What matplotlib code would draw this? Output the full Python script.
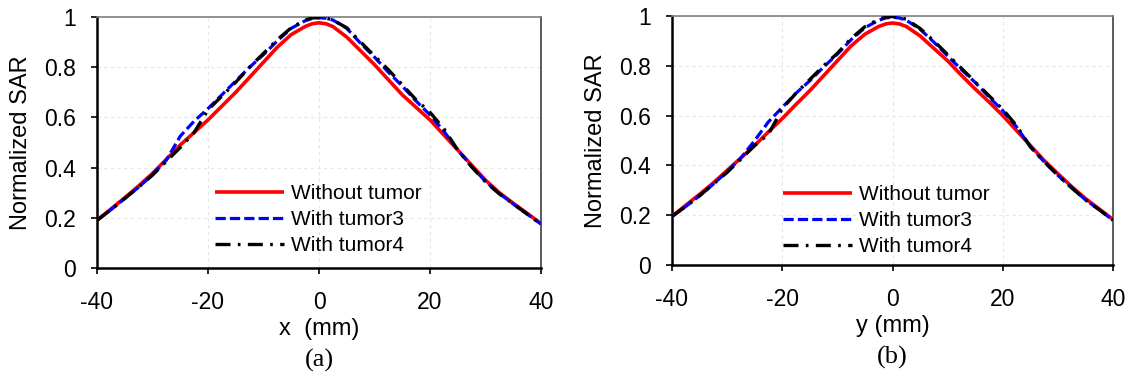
import matplotlib

matplotlib.use("Agg")

import matplotlib.pyplot as plt

plt.rcParams["font.family"] = ["Liberation Sans", "DejaVu Sans"]
plt.rcParams["axes.unicode_minus"] = False

# position along the scan line (mm), shared by both panels
pos_mm = [-40, -37.5, -35, -32.5, -30, -27.5, -25, -22.5, -20, -17.5, -15,
          -12.5, -10, -7.5, -5, -2.5, -1.25, 0, 1.25, 2.5, 5, 7.5, 10,
          12.5, 15, 17.5, 20, 22.5, 25, 27.5, 30, 32.5, 35, 37.5, 40]

# (a) along x
sar_x_none = [0.19, 0.235, 0.28, 0.327, 0.377, 0.433, 0.49, 0.54, 0.59,
              0.645, 0.70, 0.76, 0.82, 0.88, 0.93, 0.962, 0.973, 0.977,
              0.973, 0.962, 0.92, 0.865, 0.81, 0.75, 0.69, 0.64, 0.59,
              0.53, 0.47, 0.41, 0.35, 0.30, 0.258, 0.218, 0.177]
sar_x_t3 = [0.19, 0.232, 0.277, 0.322, 0.372, 0.43, 0.525, 0.585, 0.635,
            0.69, 0.745, 0.80, 0.85, 0.905, 0.955, 0.985, 0.994, 0.997,
            0.995, 0.988, 0.955, 0.895, 0.84, 0.78, 0.725, 0.665, 0.61,
            0.545, 0.47, 0.405, 0.345, 0.297, 0.255, 0.215, 0.175]
sar_x_t4 = [0.19, 0.232, 0.277, 0.322, 0.37, 0.425, 0.48, 0.54, 0.63,
            0.685, 0.74, 0.80, 0.855, 0.91, 0.957, 0.988, 0.996, 0.998,
            0.996, 0.988, 0.957, 0.90, 0.845, 0.79, 0.73, 0.67, 0.62,
            0.555, 0.47, 0.403, 0.343, 0.295, 0.255, 0.215, 0.175]

# (b) along y
sar_y_none = [0.196, 0.24, 0.284, 0.33, 0.38, 0.43, 0.48, 0.535, 0.588,
              0.645, 0.70, 0.76, 0.82, 0.88, 0.927, 0.958, 0.968, 0.972,
              0.968, 0.958, 0.92, 0.87, 0.82, 0.762, 0.707, 0.655, 0.60,
              0.54, 0.48, 0.42, 0.367, 0.315, 0.267, 0.225, 0.183]
sar_y_t3 = [0.195, 0.235, 0.278, 0.325, 0.375, 0.43, 0.50, 0.575, 0.633,
            0.69, 0.74, 0.795, 0.847, 0.905, 0.953, 0.983, 0.992, 0.995,
            0.992, 0.983, 0.947, 0.895, 0.84, 0.785, 0.733, 0.675, 0.62,
            0.555, 0.475, 0.415, 0.36, 0.31, 0.262, 0.222, 0.18]
sar_y_t4 = [0.195, 0.235, 0.278, 0.325, 0.372, 0.425, 0.48, 0.525, 0.628,
            0.69, 0.745, 0.80, 0.85, 0.91, 0.957, 0.987, 0.995, 0.998,
            0.995, 0.987, 0.95, 0.90, 0.845, 0.79, 0.735, 0.68, 0.625,
            0.56, 0.475, 0.415, 0.36, 0.31, 0.262, 0.222, 0.18]

labels = ["Without tumor", "With tumor3", "With tumor4"]
x_ticks = [-40, -20, 0, 20, 40]
y_ticks = [0, 0.2, 0.4, 0.6, 0.8, 1]
y_tick_labels = ["0", "0.2", "0.4", "0.6", "0.8", "1"]

panels = [
    (sar_x_none, sar_x_t3, sar_x_t4, "x  (mm)", "(a)",
     [97 / 1132, 113 / 381, 444 / 1132, 251 / 381], (0.266, 0.193)),
    (sar_y_none, sar_y_t3, sar_y_t4, "y (mm)", "(b)",
     [672 / 1132, 116 / 381, 441 / 1132, 249 / 381], (0.252, 0.178)),
]

fig = plt.figure(figsize=(11.32, 3.81), dpi=100)

for none, t3, t4, xlabel, tag, rect, leg_anchor in panels:
    ax = fig.add_axes(rect)
    ax.plot(pos_mm, none, color="#ff0000", linewidth=2.6,
            solid_capstyle="butt", solid_joinstyle="round",
            label=labels[0], zorder=3)
    ax.plot(pos_mm, t3, color="#0000ff", linewidth=2.3,
            dashes=(3.2, 1.3), label=labels[1], zorder=4)
    ax.plot(pos_mm, t4, color="#000000", linewidth=2.4,
            dashes=(4.5, 2.2, 0.8, 2.2), label=labels[2], zorder=5)

    ax.set_xlim(-40, 40)
    ax.set_ylim(0, 1)
    ax.set_xticks(x_ticks)
    ax.set_xticklabels([str(t) for t in x_ticks])
    ax.set_yticks(y_ticks)
    ax.set_yticklabels(y_tick_labels)
    ax.grid(True, color="#e6e6e6", linestyle=(0, (3, 3)), linewidth=0.8)
    ax.set_axisbelow(True)

    for side in ("left", "bottom"):
        ax.spines[side].set_linewidth(1.8)
        ax.spines[side].set_color("#000000")
    ax.spines["top"].set_color("#7f7f7f")
    ax.spines["top"].set_linewidth(1.2)
    ax.spines["right"].set_color("#404040")
    ax.spines["right"].set_linewidth(1.2)

    ax.tick_params(axis="x", direction="out", length=4.5, width=1.2,
                   labelsize=16.5, pad=12)
    ax.tick_params(axis="y", direction="out", length=4.5, width=1.2,
                   labelsize=16.5, pad=10.5)
    ax.set_ylabel("Normalized SAR", fontsize=17, labelpad=9)
    ax.set_xlabel(xlabel, fontsize=17, labelpad=3)

    ax.text(0.5, -0.37, tag, transform=ax.transAxes, ha="center",
            va="center", fontsize=19, family=["Liberation Serif"])

    ax.legend(loc="center left", bbox_to_anchor=leg_anchor, frameon=False,
              fontsize=15, handlelength=3.3, handletextpad=0.35,
              labelspacing=0.34, borderpad=0, borderaxespad=0)

fig.savefig("out.png", dpi=100)
